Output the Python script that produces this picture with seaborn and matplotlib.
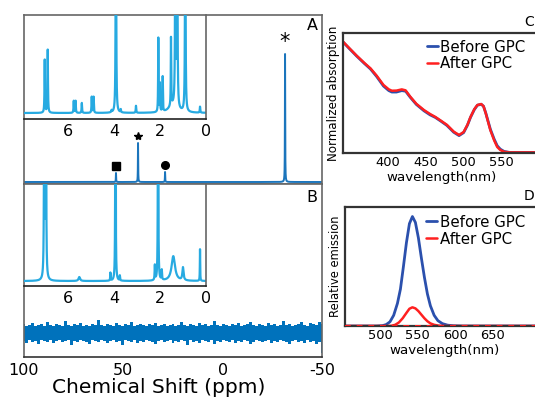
import numpy as np
import matplotlib.pyplot as plt
import seaborn as sns
from matplotlib.ticker import MultipleLocator

sns.set_style("white")
plt.rcParams['font.family'] = ['DejaVu Sans']
plt.rcParams['axes.unicode_minus'] = False
plt.rcParams['text.color'] = 'black'
plt.rcParams['axes.labelcolor'] = 'black'
plt.rcParams['xtick.color'] = 'black'

# ---------------- data ----------------
# panel A, main spectrum: peak position (ppm), height, half width
a_pos = [53.7, 42.6, 29.0, -31.4]
a_height = [9, 39, 10, 128]
a_width = [0.08, 0.08, 0.08, 0.08]
a_marks = ['s', '*', 'o']          # markers over the first three peaks

# panel A, inset (1H region)
ia_pos = [7.00, 6.87, 5.74, 5.66, 5.39, 4.96, 4.88, 4.10, 3.91, 3.70, 3.04,
          2.07, 2.00, 1.88, 1.52, 1.45, 1.33, 1.25, 0.90, 0.26]
ia_height = [53, 63, 12, 12, 10, 16, 16, 2, 300, 3, 7,
             74, 28, 35, 68, 7, 300, 300, 300, 6]
ia_width = [0.012, 0.012, 0.012, 0.012, 0.012, 0.012, 0.012, 0.012, 0.012, 0.012, 0.012,
            0.010, 0.010, 0.010, 0.010, 0.20, 0.012, 0.012, 0.012, 0.012]

# panel B, inset
ib_pos = [7.02, 6.95, 5.50, 4.15, 3.93, 3.74, 2.22, 2.08, 1.92, 1.42, 1.00, 0.26]
ib_height = [300, 300, 4, 8, 300, 5, 15, 300, 10, 25, 13, 32]
ib_width = [0.012, 0.012, 0.04, 0.01, 0.01, 0.01, 0.012, 0.01, 0.012, 0.09, 0.03, 0.008]

# panel B, main: noise band envelope (every 1.5 ppm from 100 to -50)
b_upper = [9, 7, 8, 10, 7, 8, 9, 7, 11, 8,
           7, 9, 8, 7, 12, 8, 7, 9, 8, 10,
           7, 8, 7, 9, 8, 13, 8, 7, 9, 8,
           7, 10, 8, 7, 9, 8, 11, 7, 8, 9,
           8, 7, 9, 8, 10, 7, 8, 9, 7, 8,
           9, 7, 8, 11, 8, 7, 9, 8, 7, 10,
           8, 9, 7, 8, 12, 8, 7, 9, 8, 7,
           9, 8, 10, 7, 8, 9, 11, 8, 7, 9,
           8, 7, 10, 8, 9, 7, 8, 12, 8, 9,
           7, 8, 9, 11, 8, 7, 10, 9, 8, 11, 9]
b_lower = [-8, -10, -7, -9, -8, -11, -7, -8, -9, -7,
           -10, -8, -7, -9, -8, -7, -12, -8, -9, -7,
           -8, -9, -11, -7, -8, -9, -7, -8, -10, -8,
           -7, -9, -8, -12, -7, -8, -9, -7, -10, -8,
           -9, -7, -8, -9, -11, -8, -7, -9, -8, -7,
           -10, -8, -9, -7, -8, -12, -7, -9, -8, -10,
           -7, -8, -9, -7, -11, -8, -9, -7, -8, -9,
           -7, -10, -8, -9, -7, -8, -11, -9, -7, -8,
           -9, -8, -7, -10, -8, -9, -7, -8, -9, -11,
           -8, -7, -9, -8, -10, -7, -9, -8, -11, -9, -20]

# panel C, absorption
abs_wl = [342, 350, 360, 370, 378, 386, 395, 402, 406, 412, 419, 424, 430, 438,
          448, 456, 463, 470, 478, 487, 494, 500, 505, 509, 514, 518, 523, 526,
          529, 532, 535, 540, 544, 548, 553, 560, 575, 600]
abs_before = [0.925, 0.872, 0.807, 0.746, 0.700, 0.638, 0.558, 0.520, 0.508, 0.508,
              0.520, 0.515, 0.465, 0.405, 0.352, 0.318, 0.296, 0.266, 0.230, 0.173,
              0.145, 0.170, 0.232, 0.297, 0.362, 0.398, 0.406, 0.390, 0.333, 0.265,
              0.198, 0.115, 0.060, 0.032, 0.013, 0.005, 0.005, 0.005]
abs_after = [0.928, 0.875, 0.810, 0.750, 0.705, 0.645, 0.567, 0.530, 0.519, 0.520,
             0.530, 0.522, 0.470, 0.410, 0.358, 0.325, 0.300, 0.270, 0.235, 0.178,
             0.150, 0.175, 0.235, 0.300, 0.365, 0.400, 0.408, 0.390, 0.330, 0.260,
             0.190, 0.105, 0.050, 0.025, 0.010, 0.005, 0.005, 0.005]

# panel D, emission
em_wl_before = [453, 495, 503, 508, 513, 518, 523, 527, 531, 535, 539, 543, 547,
                551, 555, 559, 563, 567, 572, 577, 583, 590, 598, 610, 720]
em_before = [0, 0, 0.003, 0.012, 0.035, 0.09, 0.19, 0.31, 0.50, 0.70, 0.86, 0.92,
             0.87, 0.74, 0.57, 0.41, 0.27, 0.17, 0.09, 0.045, 0.02, 0.007, 0.002, 0, 0]
em_wl_after = [453, 510, 515, 520, 525, 530, 535, 539, 543, 547, 551, 555, 559,
               563, 567, 572, 578, 585, 720]
em_after = [0, 0, 0.002, 0.01, 0.03, 0.065, 0.11, 0.145, 0.157, 0.148, 0.125,
            0.095, 0.065, 0.04, 0.022, 0.01, 0.003, 0, 0]

labels = ['Before GPC', 'After GPC']


def lorentz(x, pos, height, width):
    y = np.zeros_like(x)
    for p, h, w in zip(pos, height, width):
        y += h * w ** 2 / ((x - p) ** 2 + w ** 2)
    return y


W, H = 535, 398


def box(l, t, r, b):
    return [l / W, 1 - b / H, (r - l) / W, (b - t) / H]


fig = plt.figure(figsize=(W / 100, H / 100), dpi=100)

c_main = '#1b75bc'
c_inset = '#27aae1'
c_noise = '#0072bc'
c_spine = '#666666'
c_blue = '#2b50ad'
c_red = '#ff2020'

# ---------------- panel A ----------------
axA = fig.add_axes(box(24, 15, 322, 184))
xa = np.linspace(100, -50, 7501)
sns.lineplot(x=xa, y=lorentz(xa, a_pos, a_height, a_width), ax=axA,
             color=c_main, lw=1.4, sort=False, estimator=None)
for p, h, m in zip(a_pos, a_height, a_marks):
    axA.plot(p, h + 7.5, marker=m, color='black', ms=6 if m == '*' else 5.5, ls='none')
axA.text(a_pos[3], a_height[3] + 2, '*', ha='center', va='bottom', fontsize=15)
axA.set_xlim(100, -50)
axA.set_ylim(-2, 167)
axA.set_xticks([])
axA.set_yticks([])
for s in axA.spines.values():
    s.set_color(c_spine)
    s.set_linewidth(1.2)

# ---------------- panel B ----------------
axB = fig.add_axes(box(24, 184, 322, 357))
xb = np.linspace(100, -50, len(b_upper))
axB.fill_between(xb, b_lower, b_upper, step='mid', color=c_noise, lw=0)
axB.set_xlim(100, -50)
axB.set_ylim(-24, 150)
axB.set_yticks([])
axB.xaxis.set_major_locator(MultipleLocator(50))
axB.xaxis.set_minor_locator(MultipleLocator(10))
axB.tick_params(axis='x', which='both', direction='in', length=3.6, width=1.1,
                labelsize=11.5, pad=4, color='#333333')
axB.set_xlabel('Chemical Shift (ppm)', fontsize=14.5, labelpad=0, x=0.452)
for s in axB.spines.values():
    s.set_color(c_spine)
    s.set_linewidth(1.2)
axB.spines['bottom'].set_color('#333333')

# ---------------- insets ----------------
xi = np.linspace(7.9, 0, 8000)
for ax_box, pos, hei, wid, ylim in [
        (box(24, 15, 206, 119), ia_pos, ia_height, ia_width, (-6, 98)),
        (box(24, 184, 206, 286), ib_pos, ib_height, ib_width, (-5, 98))]:
    ax = fig.add_axes(ax_box)
    ax.patch.set_alpha(0)
    sns.lineplot(x=xi, y=lorentz(xi, pos, hei, wid), ax=ax, color=c_inset,
                 lw=1.6, sort=False, estimator=None)
    ax.set_xlim(7.9, 0)
    ax.set_ylim(*ylim)
    ax.set_yticks([])
    ax.xaxis.set_major_locator(MultipleLocator(2))
    ax.xaxis.set_minor_locator(MultipleLocator(0.5))
    ax.tick_params(axis='x', which='both', direction='out', length=3, width=1.1,
                   labelsize=11.5, pad=0.5, color='#222222')
    ax.spines['top'].set_visible(False)
    ax.spines['left'].set_visible(False)
    ax.spines['right'].set_color(c_spine)
    ax.spines['right'].set_linewidth(1.2)
    ax.spines['bottom'].set_color('#222222')
    ax.spines['bottom'].set_linewidth(1.2)

fig.text(312 / W, 1 - 25 / H, 'A', ha='center', va='center', fontsize=11.5)
fig.text(312 / W, 1 - 197 / H, 'B', ha='center', va='center', fontsize=11.5)

# ---------------- panel C ----------------
axC = fig.add_axes(box(343, 33, 540, 153))
sns.lineplot(x=abs_wl, y=abs_before, ax=axC, color=c_blue, lw=2.0, label=labels[0],
             sort=False, estimator=None)
sns.lineplot(x=abs_wl, y=abs_after, ax=axC, color=c_red, lw=1.8, label=labels[1],
             sort=False, estimator=None)
axC.set_xlim(342, 600)
axC.set_ylim(0, 1)
axC.set_xticks([400, 450, 500, 550])
axC.set_yticks([])
axC.tick_params(axis='x', direction='in', length=3, width=1.2, labelsize=9.4, pad=2.5)
axC.set_xlabel('wavelength(nm)', fontsize=9.6, labelpad=1)
axC.set_ylabel('Normalized absorption', fontsize=8.6, labelpad=2)
axC.legend(loc='upper left', bbox_to_anchor=(0.425, 0.945), frameon=False,
           fontsize=10.8, handlelength=0.75, handletextpad=0.15,
           labelspacing=0.12, borderpad=0, borderaxespad=0)

# ---------------- panel D ----------------
axD = fig.add_axes(box(345, 207, 545, 326))
sns.lineplot(x=em_wl_before, y=em_before, ax=axD, color=c_blue, lw=2.0,
             label=labels[0], sort=False, estimator=None)
sns.lineplot(x=em_wl_after, y=em_after, ax=axD, color=c_red, lw=1.8,
             label=labels[1], sort=False, estimator=None)
axD.axhline(0, color=c_red, lw=1.4, ls=(0, (3, 3)), zorder=3)
axD.set_xlim(453, 720)
axD.set_ylim(0, 1)
axD.set_xticks([500, 550, 600, 650])
axD.set_yticks([])
axD.tick_params(axis='x', direction='in', length=3, width=1.2, labelsize=9.4, pad=2.5)
axD.set_xlabel('wavelength(nm)', fontsize=9.6, labelpad=1)
axD.set_ylabel('Relative emission', fontsize=8.3, labelpad=2)
axD.legend(loc='upper left', bbox_to_anchor=(0.405, 0.935), frameon=False,
           fontsize=10.8, handlelength=0.75, handletextpad=0.15,
           labelspacing=0.12, borderpad=0, borderaxespad=0)

for ax in (axC, axD):
    for s in ax.spines.values():
        s.set_color('#333333')
        s.set_linewidth(1.6)

# panel letters C and D sit at the right edge; keep them just inside
fig.text(534 / W, 1 - 22 / H, 'C', ha='right', va='center', fontsize=10)
fig.text(534 / W, 1 - 196 / H, 'D', ha='right', va='center', fontsize=10)

fig.savefig('out.png', dpi=100)
